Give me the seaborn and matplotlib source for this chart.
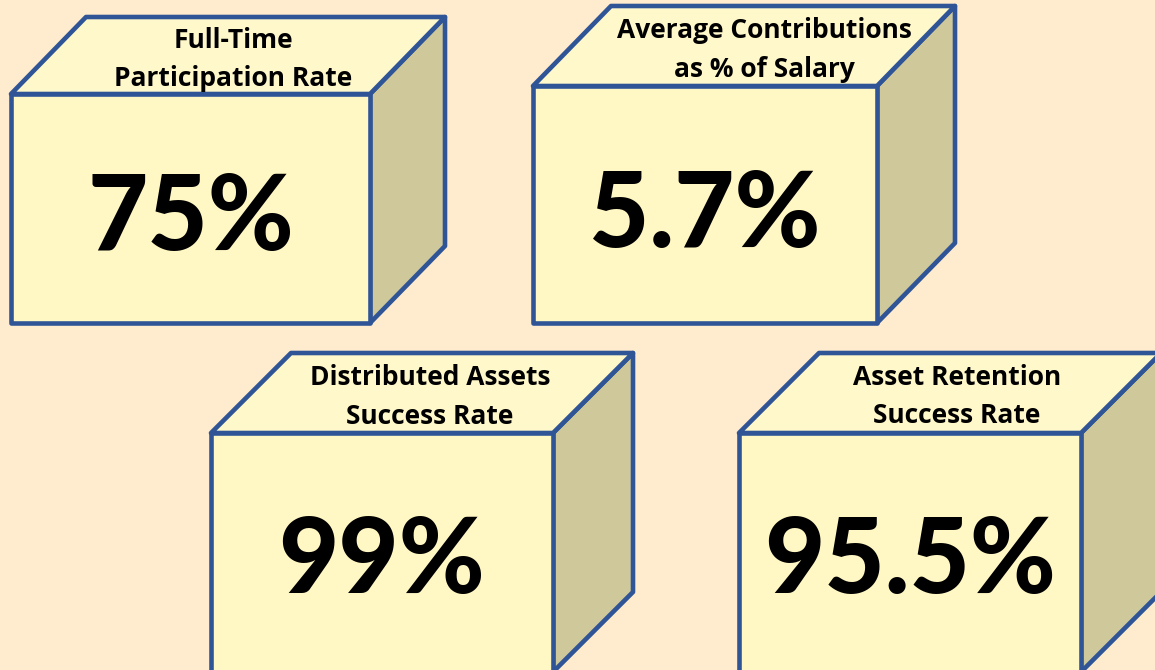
import matplotlib
matplotlib.use("Agg")
import matplotlib.pyplot as plt
from matplotlib.patches import Polygon
import seaborn as sns

# ---- data ----
titles_line1 = ["Full-Time", "Average Contributions", "Distributed Assets", "Asset Retention"]
titles_line2 = ["Participation Rate", "as % of Salary", "Success Rate", "Success Rate"]
values = [75, 5.7, 99, 95.5]
value_labels = ["75%", "5.7%", "99%", "95.5%"]

# ---- layout (pixel-like data units) ----
# front-left x, front-top y, width, height, depth dx, depth dy
boxes = [
    (11, 94, 359, 229, 75, 77),
    (533, 86, 344, 237, 78, 80),
    (211, 433, 342, 239, 80, 80),
    (739, 433, 342, 239, 80, 80),
]
title_pos = [  # center x, baseline line1, baseline line2
    (233, 48, 86),
    (764, 38, 77),
    (430, 385, 424),
    (957, 385, 423),
]
value_baseline = [250, 247, 593, 593]

BG = "#FFEBCD"
FRONT = "#FFF7C4"
TOP = "#FFF8CA"
SIDE = "#CFC89A"
EDGE = "#2F5597"

sns.set_theme(style="white")
plt.rcParams["font.family"] = ["Lato", "DejaVu Sans"]

fig = plt.figure(figsize=(11.55, 6.70), dpi=100, facecolor=BG)
ax = fig.add_axes([0, 0, 1, 1])
ax.set_facecolor(BG)
ax.set_xlim(0, 1155)
ax.set_ylim(670, 0)
ax.axis("off")

for i, (x0, y0, w, h, dx, dy) in enumerate(boxes):
    front = [(x0, y0), (x0 + w, y0), (x0 + w, y0 + h), (x0, y0 + h)]
    top = [(x0, y0), (x0 + dx, y0 - dy), (x0 + w + dx, y0 - dy), (x0 + w, y0)]
    side = [(x0 + w, y0), (x0 + w + dx, y0 - dy), (x0 + w + dx, y0 + h - dy), (x0 + w, y0 + h)]
    for pts, fc in [(side, SIDE), (top, TOP), (front, FRONT)]:
        ax.add_patch(Polygon(pts, closed=True, facecolor=fc, edgecolor=EDGE,
                             linewidth=3.3, joinstyle="round"))
    cx, b1, b2 = title_pos[i]
    for txt, b in [(titles_line1[i], b1), (titles_line2[i], b2)]:
        ax.text(cx, b, txt, ha="center", va="baseline", family=["Open Sans", "DejaVu Sans"],
                fontsize=19, fontweight="bold", color="black")
    ax.text(x0 + w / 2, value_baseline[i], value_labels[i], ha="center", va="baseline",
            fontsize=75, fontweight="black", color="black")

fig.savefig("out.png", dpi=100, facecolor=BG)
